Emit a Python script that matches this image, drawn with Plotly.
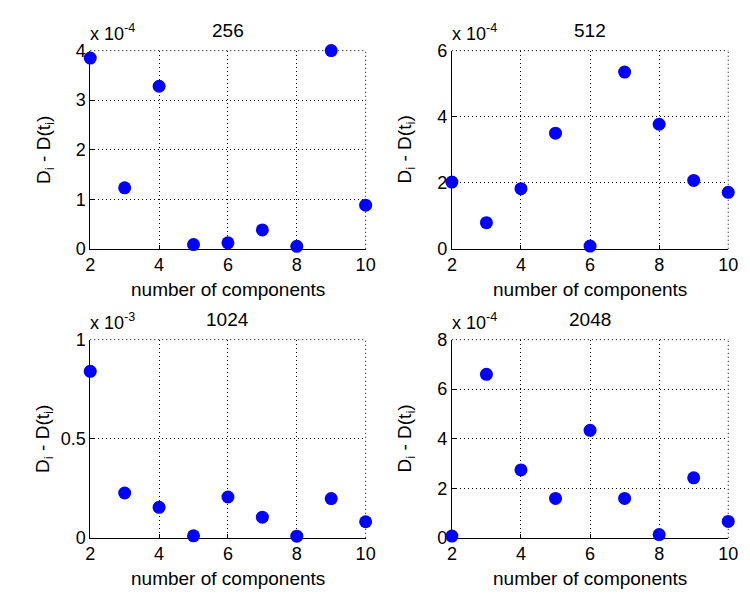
import plotly.graph_objects as go

components = [2, 3, 4, 5, 6, 7, 8, 9, 10]
titles = ["256", "512", "1024", "2048"]
exponents = [-4, -4, -3, -4]

vals_256 = [3.85e-4, 1.23e-4, 3.28e-4, 0.085e-4, 0.12e-4, 0.38e-4, 0.05e-4, 4.0e-4, 0.88e-4]
vals_512 = [2.02e-4, 0.79e-4, 1.82e-4, 3.50e-4, 0.08e-4, 5.35e-4, 3.77e-4, 2.07e-4, 1.71e-4]
vals_1024 = [0.84e-3, 0.226e-3, 0.154e-3, 0.01e-3, 0.206e-3, 0.104e-3, 0.008e-3, 0.198e-3, 0.081e-3]
vals_2048 = [0.07e-4, 6.6e-4, 2.74e-4, 1.59e-4, 4.34e-4, 1.59e-4, 0.13e-4, 2.42e-4, 0.66e-4]
series = [vals_256, vals_512, vals_1024, vals_2048]

y_ranges = [[0, 4], [0, 6], [0, 1], [0, 8]]
y_ticks = [[0, 1, 2, 3, 4], [0, 2, 4, 6], [0, 0.5, 1], [0, 2, 4, 6, 8]]
y_ticktext = [["0", "1", "2", "3", "4"], ["0", "2", "4", "6"], ["0", "0.5", "1"], ["0", "2", "4", "6", "8"]]
x_ticks = [2, 4, 6, 8, 10]

W, H = 750, 600
# pixel boxes (left, right, top, bottom)
boxes = [(87, 368, 42, 247), (456, 738, 42, 247), (87, 368, 341, 546), (456, 738, 341, 546)]

FONT = "Liberation Sans, Arial, sans-serif"
DOT = "1px,3px"
fig = go.Figure()
layout = dict(width=W, height=H, margin=dict(l=0, r=0, t=0, b=0),
              plot_bgcolor="white", paper_bgcolor="white", showlegend=False,
              font=dict(family=FONT, size=18, color="black"))
annotations = []
shapes = []

for i, (vals, (l, r, t, b)) in enumerate(zip(series, boxes)):
    k = "" if i == 0 else str(i + 1)
    scale = 10 ** (-exponents[i])
    fig.add_trace(go.Scatter(
        x=components, y=[v * scale for v in vals], mode="markers",
        marker=dict(color="#0000FF", size=13, line=dict(width=0)),
        cliponaxis=False, xaxis="x" + k, yaxis="y" + k))
    common = dict(showline=True, linecolor="black", linewidth=1, mirror=False,
                  showgrid=True, gridcolor="black", gridwidth=1, griddash=DOT,
                  zeroline=False, ticks="inside", ticklen=4, tickcolor="black",
                  layer="below traces",
                  tickfont=dict(family=FONT, size=18, color="black"))
    layout["xaxis" + k] = dict(common, domain=[l / W, r / W], range=[2, 10],
                               tickvals=x_ticks, ticktext=[str(v) for v in x_ticks],
                               anchor="y" + k)
    layout["yaxis" + k] = dict(common, domain=[1 - b / H, 1 - t / H], range=y_ranges[i],
                               tickvals=y_ticks[i], ticktext=y_ticktext[i],
                               anchor="x" + k)
    # top and right dotted edges (grid at range limits)
    shapes.append(dict(type="line", xref="x" + k + " domain", yref="y" + k + " domain",
                       x0=0, x1=1, y0=1, y1=1, layer="below",
                       line=dict(color="black", width=1, dash=DOT)))
    shapes.append(dict(type="line", xref="x" + k + " domain", yref="y" + k + " domain",
                       x0=1, x1=1, y0=0, y1=1, layer="below",
                       line=dict(color="black", width=1, dash=DOT)))
    cx = (l + r) / 2
    cy = (t + b) / 2
    annotations.append(dict(text=titles[i], x=cx / W, y=1 - (t - 21) / H, xref="paper", yref="paper",
                            xanchor="center", yanchor="middle", showarrow=False,
                            font=dict(size=19)))
    annotations.append(dict(text="x 10<sup>%d</sup>" % exponents[i], x=(l - 2) / W, y=1 - (t - 5) / H,
                            xref="paper", yref="paper", xanchor="left", yanchor="bottom",
                            showarrow=False, font=dict(size=18)))
    annotations.append(dict(text="number of components", x=cx / W, y=1 - (b + 42) / H,
                            xref="paper", yref="paper", xanchor="center", yanchor="middle",
                            showarrow=False, font=dict(size=19)))
    annotations.append(dict(text="D<sub>i</sub> - D(t<sub>i</sub>)", x=(l - 47) / W, y=1 - cy / H,
                            xref="paper", yref="paper", xanchor="center", yanchor="middle",
                            textangle=-90, showarrow=False, font=dict(size=19)))

layout["annotations"] = annotations
layout["shapes"] = shapes
fig.update_layout(**layout)
fig.write_html("out.html")
